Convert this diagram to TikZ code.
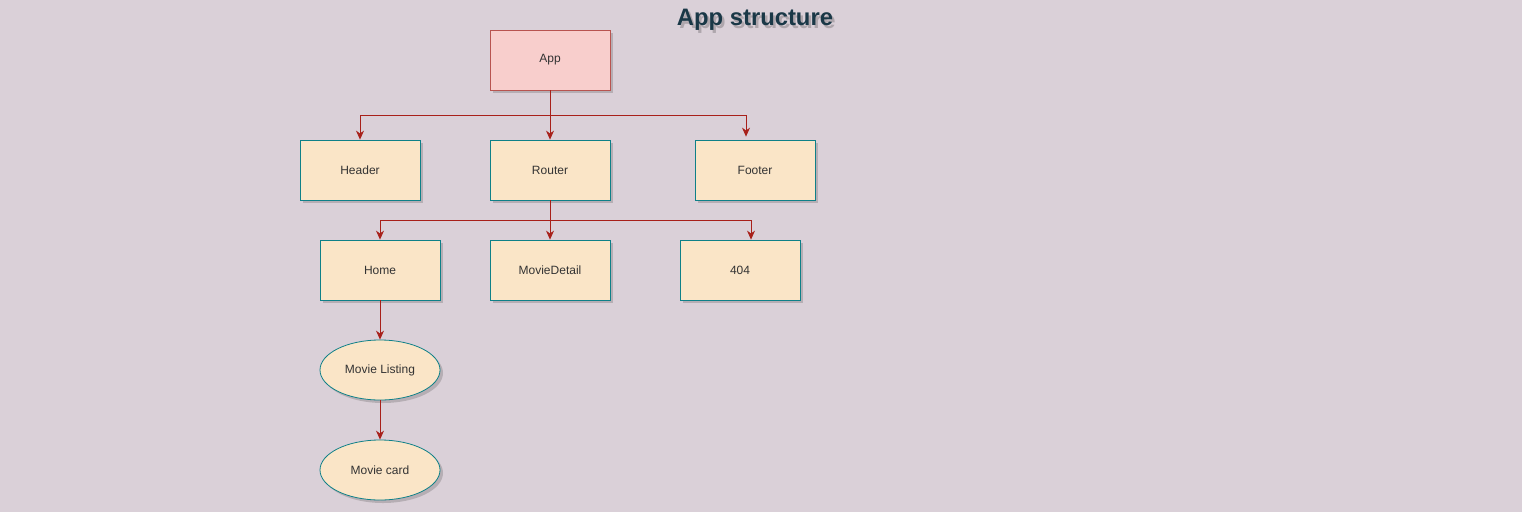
\documentclass[tikz,border=0pt]{standalone}
\usepackage{fontspec}
\setmainfont{Liberation Sans}
\usetikzlibrary{shapes.geometric,shadows,arrows.meta}
\definecolor{bgc}{HTML}{DAD0D8}
\definecolor{boxfill}{HTML}{FAE5C7}
\definecolor{boxline}{HTML}{0E8088}
\definecolor{appfill}{HTML}{F8CECC}
\definecolor{appline}{HTML}{B85450}
\definecolor{arrowc}{HTML}{A8201A}
\definecolor{txtc}{HTML}{333333}
\definecolor{titlec}{HTML}{1A3847}
\tikzset{
  shad/.style={drop shadow={opacity=0.25,shadow xshift=3pt,shadow yshift=-3pt,fill=black!70}},
  cbox/.style={rectangle,draw=boxline,fill=boxfill,line width=0.8pt,minimum width=120pt,minimum height=60pt,inner sep=0pt,font=\fontsize{12}{14}\selectfont,text=txtc,shad},
  abox/.style={cbox,draw=appline,fill=appfill},
  cell/.style={ellipse,draw=boxline,fill=boxfill,line width=0.8pt,minimum width=120pt,minimum height=60pt,inner sep=0pt,font=\fontsize{12}{14}\selectfont,text=txtc,shad},
  conn/.style={draw=arrowc,line width=0.8pt,-{Stealth[length=9pt,width=8pt]}},
}
\begin{document}
\begin{tikzpicture}[x=1pt,y=-1pt]
\fill[bgc] (0,0) rectangle (1522,512);
\useasboundingbox (0,0) rectangle (1522,512);
\node[font=\bfseries\fontsize{23.8}{28}\selectfont,text=black,opacity=0.2] (titleshadow) at (757.5,23) {App structure};
\node[font=\bfseries\fontsize{23.8}{28}\selectfont,text=titlec] (title) at (755,20) {App structure};
\node[abox] (app) at (550,60) {App};
\node[cbox] (header) at (360,170) {Header};
\node[cbox] (router) at (550,170) {Router};
\node[cbox] (footer) at (755,170) {Footer};
\node[cbox] (home) at (380,270) {Home};
\node[cbox] (detail) at (550,270) {MovieDetail};
\node[cbox] (nf) at (740,270) {404};
\node[cell] (listing) at (380,370) {Movie Listing};
\node[cell] (card) at (380,470) {Movie card};
\draw[conn] (app.south) -- ++(0,25) -| (header.north);
\draw[conn] (app.south) -- (router.north);
\draw[conn] (app.south) -- ++(0,25) -| ([xshift=-9pt,yshift=3pt]footer.north);
\draw[conn] (router.south) -- ++(0,20) -| (home.north);
\draw[conn] (router.south) -- (detail.north);
\draw[conn] (router.south) -- ++(0,20) -| ([xshift=11pt]nf.north);
\draw[conn] (home.south) -- (listing.north);
\draw[conn] (listing.south) -- (card.north);
\end{tikzpicture}
\end{document}
